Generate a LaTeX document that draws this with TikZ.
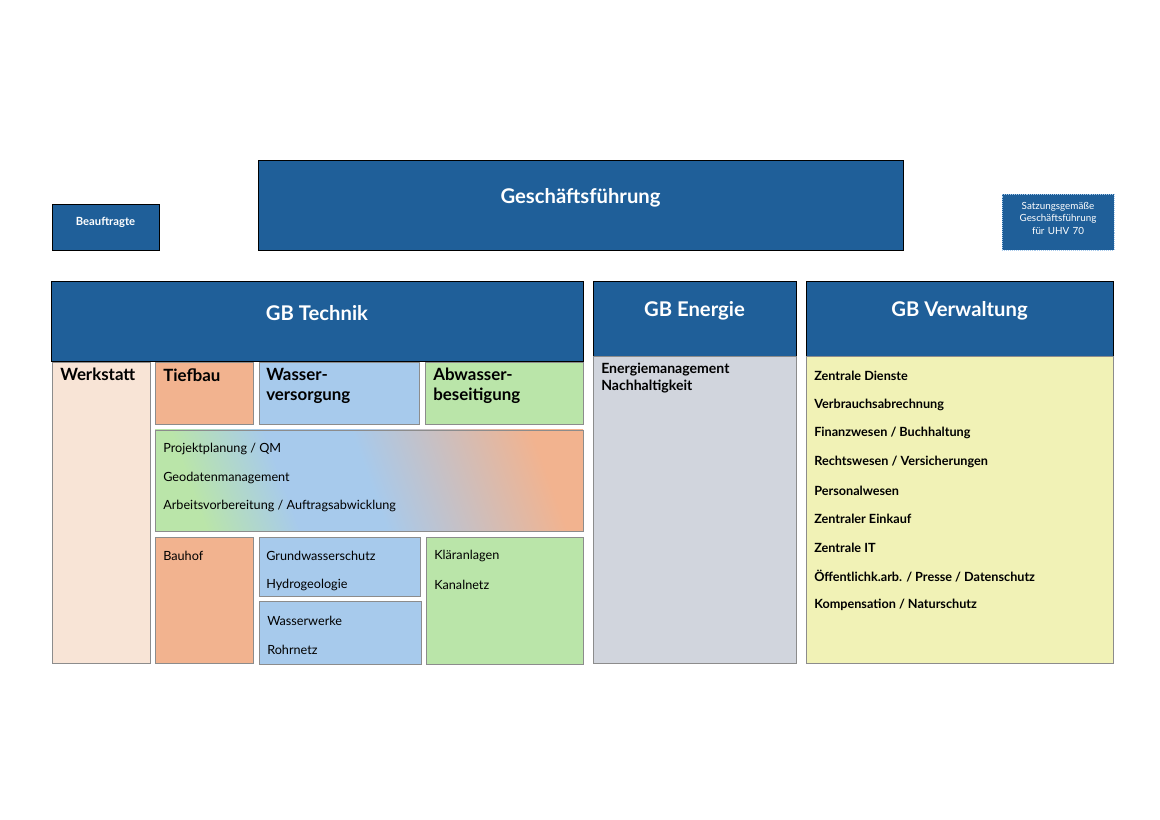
\documentclass[tikz,border=0pt]{standalone}
\usepackage{fontspec}
\setmainfont{Lato}
\usetikzlibrary{fit}

\definecolor{gfblue}{HTML}{1F5F99}
\definecolor{werkc}{HTML}{F8E4D6}
\definecolor{tiefc}{HTML}{F2B38F}
\definecolor{wasc}{HTML}{A7CAEC}
\definecolor{abwc}{HTML}{BAE5A9}
\definecolor{enec}{HTML}{D1D5DD}
\definecolor{verc}{HTML}{F1F2B6}
\pgfdeclarehorizontalshading{techmix}{100bp}{color(0bp)=(tiefc); color(25bp)=(tiefc); color(50bp)=(wasc); color(62bp)=(wasc); color(75bp)=(abwc); color(100bp)=(abwc)}

\tikzset{
  head/.style={draw=black, fill=gfblue, inner sep=0pt, text=white, font=\bfseries},
  cell/.style={draw=black!45, inner sep=0pt},
  item/.style={anchor=west, inner sep=0pt, font=\small},
  bitem/.style={anchor=west, inner sep=0pt, font=\small\bfseries},
  ttl/.style={anchor=north west, inner sep=0pt, align=left, font=\large\bfseries}
}

\begin{document}
\begin{tikzpicture}[x=0.025cm, y=-0.025cm]
    \useasboundingbox (0,0) rectangle (1160,820);

    % top row
    \node [head, fit={(258,160) (903,250)}, font=\Large\bfseries] (gf) {Geschäftsführung};
    \node [head, fit={(52,204) (159,250)}, font=\footnotesize\bfseries] (beauf) {Beauftragte};
    \node [head, draw=wasc, densely dotted, fit={(1002,194) (1114,250)}, font=\scriptsize, align=center] (satz) {Satzungsgemäße\\[1pt] Geschäftsführung\\[1pt] für UHV 70};

    % headers of the divisions
    \node [head, fit={(51,281) (583,361)}, font=\Large\bfseries] (gbt) {GB Technik};
    \node [head, fit={(593,281) (796,356)}, font=\Large\bfseries] (gbe) {GB Energie};
    \node [head, fit={(806,281) (1113,356)}, font=\Large\bfseries] (gbv) {GB Verwaltung};

    % GB Technik
    \node [cell, fill=werkc, fit={(52,362) (150,663)}] (werk) {};
    \node [cell, fill=tiefc, fit={(155,362) (253,424)}] (tief) {};
    \node [cell, fill=wasc, fit={(259,362) (419,424)}] (wasv) {};
    \node [cell, fill=abwc, fit={(425,362) (583,424)}] (abw) {};
    \node [cell, shading=techmix, shading angle=-160, fit={(155,430) (583,531)}] (proj) {};
    \node [cell, fill=tiefc, fit={(155,537) (253,663)}] (bauhof) {};
    \node [cell, fill=wasc, fit={(259,537) (420,596)}] (grund) {};
    \node [cell, fill=wasc, fit={(259,601) (421,664)}] (wwerk) {};
    \node [cell, fill=abwc, fit={(426,537) (583,664)}] (klaer) {};

    \node [ttl] at (60,368) {Werkstatt};
    \node [ttl] at (163,368) {Tiefbau};
    \node [ttl] at (266,368) {Wasser-\\versorgung};
    \node [ttl] at (433,368) {Abwasser-\\beseitigung};

    \node [item] at (163,449) {Projektplanung / QM};
    \node [item] at (163,478) {Geodatenmanagement};
    \node [item] at (163,506) {Arbeitsvorbereitung / Auftragsabwicklung};
    \node [item] at (163,556) {Bauhof};
    \node [item] at (266,556) {Grundwasserschutz};
    \node [item] at (266,585) {Hydrogeologie};
    \node [item] at (267,621) {Wasserwerke};
    \node [item] at (267,650) {Rohrnetz};
    \node [item] at (434,556) {Kläranlagen};
    \node [item] at (434,585) {Kanalnetz};

    % GB Energie
    \node [cell, fill=enec, fit={(593,356) (796,663)}] (ene) {};
    \node [ttl, font=\bfseries] at (601,363) {Energiemanagement\\Nachhaltigkeit};

    % GB Verwaltung
    \node [cell, fill=verc, fit={(806,356) (1113,663)}] (verw) {};
    \foreach \txt [count=\i from 0] in {Zentrale Dienste, Verbrauchsabrechnung,
        Finanzwesen / Buchhaltung, Rechtswesen / Versicherungen, Personalwesen,
        Zentraler Einkauf, Zentrale IT, Öffentlichk.arb. / Presse / Datenschutz,
        Kompensation / Naturschutz}
      \node [bitem] at (814,376+28.6*\i) {\txt};
\end{tikzpicture}
\end{document}
